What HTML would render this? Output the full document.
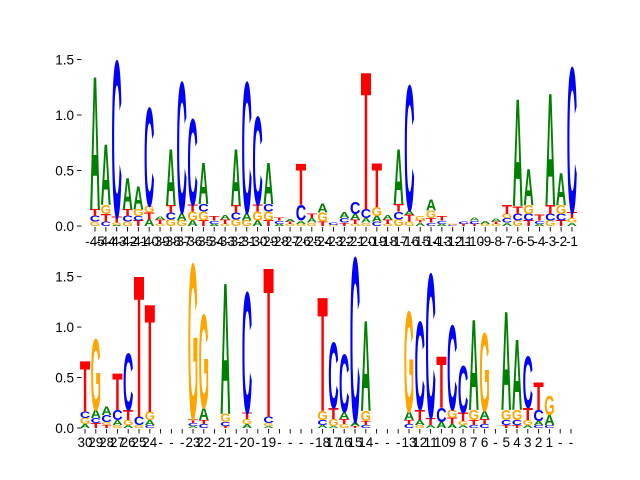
<!DOCTYPE html>
<html><head><meta charset="utf-8"><style>
html,body{margin:0;padding:0;background:#fff;}
svg{display:block;font-family:"Liberation Sans",sans-serif;}
</style></head><body>
<svg id="chart" width="640" height="480" viewBox="0 0 640 480" xmlns="http://www.w3.org/2000/svg"></svg>
<script>
const topLabels = [];
for (let k = 45; k >= 1; k--) topLabels.push('-' + k);
const topStacks = [
 [['G',.04],['C',.05],['T',.06],['A',1.19]],
 [['C',.04],['T',.07],['G',.08],['A',.54]],
 [['A',.01],['G',.02],['T',.05],['C',1.40]],
 [['G',.04],['C',.05],['T',.06],['A',.28]],
 [['T',.05],['C',.04],['G',.06],['A',.21]],
 [['A',.06],['T',.06],['G',.06],['C',.88]],
 [['G',.02],['T',.04],['A',.03]],
 [['G',.06],['C',.06],['T',.07],['A',.50]],
 [['G',.05],['A',.07],['C',1.17]],
 [['A',.05],['G',.08],['T',.06],['C',.77]],
 [['T',.05],['G',.08],['C',.07],['A',.37]],
 [['A',.02],['C',.03],['T',.04]],
 [['G',.02],['T',.04],['A',.04]],
 [['G',.06],['C',.06],['T',.07],['A',.50]],
 [['G',.05],['A',.07],['C',1.17]],
 [['A',.05],['G',.08],['T',.06],['C',.79]],
 [['T',.05],['G',.08],['C',.07],['A',.37]],
 [['A',.02],['C',.03],['T',.03]],
 [['G',.02],['T',.02],['A',.02]],
 [['G',.02],['A',.03],['C',.14],['T',.37]],
 [['G',.03],['A',.04],['T',.04]],
 [['T',.04],['G',.08],['A',.08]],
 [['G',.01],['C',.02]],
 [['T',.03],['C',.04],['A',.05]],
 [['G',.02],['T',.04],['A',.05],['C',.11]],
 [['G',.03],['A',.04],['C',.08],['T',1.23]],
 [['C',.04],['A',.05],['G',.08],['T',.39]],
 [['G',.02],['T',.04],['A',.04]],
 [['G',.06],['C',.07],['T',.07],['A',.49]],
 [['G',.04],['T',.06],['A',.04],['C',1.12]],
 [['A',.03],['T',.02],['G',.04]],
 [['C',.03],['T',.04],['G',.07],['A',.10]],
 [['A',.02],['C',.03],['T',.04]],
 [['C',.01],['G',.01]],
 [['T',.02],['C',.02]],
 [['T',.02],['C',.03],['A',.03]],
 [['G',.02],['A',.03]],
 [['G',.02],['T',.02],['A',.03]],
 [['A',.03],['C',.04],['G',.04],['T',.08]],
 [['G',.05],['C',.06],['T',.07],['A',.96]],
 [['T',.05],['C',.06],['G',.08],['A',.32]],
 [['A',.02],['C',.03],['T',.05]],
 [['G',.05],['C',.06],['T',.08],['A',1.00]],
 [['T',.05],['C',.06],['G',.08],['A',.29]],
 [['A',.03],['G',.04],['T',.05],['C',1.30]]
];
const bottomLabels = ['30','29','28','27','26','25','24','-','-','-','23','22','-','21','-','20','-','19','-','-','-','-','18','17','16','15','14','-','-','-','13','12','11','10','9','8','7','6','-','5','4','3','2','1','-','-'];
const bottomStacks = [
 [['A',.04],['G',.06],['C',.06],['T',.50]],
 [['T',.05],['C',.05],['A',.08],['G',.70]],
 [['T',.03],['G',.03],['C',.07],['A',.08]],
 [['G',.03],['A',.05],['C',.10],['T',.36]],
 [['A',.03],['G',.05],['T',.10],['C',.56]],
 [['G',.03],['C',.08],['T',1.39]],
 [['C',.03],['A',.05],['G',.08],['T',1.06]],
 [],[],[],
 [['A',.02],['C',.03],['T',.04],['G',1.53]],
 [['C',.04],['T',.04],['A',.12],['G',.92]],
 [],
 [['T',.02],['C',.04],['G',.08],['A',1.29]],
 [],
 [['A',.04],['G',.05],['T',.06],['C',1.19]],
 [],
 [['A',.02],['G',.03],['C',.06],['T',1.47]],
 [],[],[],[],
 [['A',.03],['C',.05],['G',.09],['T',1.12]],
 [['A',.02],['G',.07],['T',.11],['C',.65]],
 [['G',.04],['T',.05],['A',.07],['C',.57]],
 [['T',.02],['A',.04],['C',1.62]],
 [['C',.03],['T',.04],['G',.10],['A',.89]],
 [],[],[],
 [['C',.04],['T',.04],['A',.08],['G',.99]],
 [['G',.03],['A',.05],['T',.10],['C',.87]],
 [['A',.03],['T',.07],['C',1.42]],
 [['A',.06],['C',.14],['T',.51]],
 [['A',.04],['T',.06],['G',.08],['C',.83]],
 [['A',.03],['G',.04],['T',.08],['C',.46]],
 [['C',.03],['T',.05],['G',.10],['A',.89]],
 [['C',.04],['T',.05],['A',.08],['G',.77]],
 [],
 [['T',.03],['C',.05],['G',.10],['A',.97]],
 [['T',.03],['C',.05],['G',.10],['A',.69]],
 [['A',.03],['G',.05],['T',.12],['C',.51]],
 [['C',.03],['A',.04],['C',.11],['T',.27]],
 [['C',.03],['A',.10],['G',.19]],
 [],[]
];
const yTicks = [0, 0.5, 1.0, 1.5];
const colors = {A:'#008000', C:'#0000ff', G:'#ffa500', T:'#ff0000'};
const NS = 'http://www.w3.org/2000/svg';
const svg = document.getElementById('chart');

function mk(tag, attrs, parent) {
  const e = document.createElementNS(NS, tag);
  for (const k in attrs) e.setAttribute(k, attrs[k]);
  parent.appendChild(e);
  return e;
}

function drawPanel(name, labels, stacks, x0, step, y0, pxPerUnit, labelY) {
  const g = mk('g', {}, svg);
  
  
  const xS = i => x0 + step * i;
  const yS = v => y0 - v * pxPerUnit;
  yTicks.forEach(t => {
    const y = yS(t);
    const tk = mk('line', {x1: 77, x2: 81.5, y1: y, y2: y, stroke: '#000', 'stroke-width': 0.9}, g);
    
    
    const tl = mk('text', {x: 74, y: y + 4.8, 'font-size': 13.5, 'text-anchor': 'end', fill: '#000'}, g);
    tl.textContent = t.toFixed(1);
    
    
  });
  const cw = step * 0.96;
  labels.forEach((lab, i) => {
    const x = xS(i);
    const tk = mk('line', {x1: x, x2: x, y1: y0 + 1, y2: y0 + 5.5, stroke: '#000', 'stroke-width': 0.9}, g);
    
    
    const tl = mk('text', {x: x, y: labelY, 'font-size': 13.5, 'text-anchor': 'middle', fill: '#000'}, g);
    tl.textContent = lab;
    
    
    let cum = 0;
    (stacks[i] || []).forEach(([L, h]) => {
      const hp = h * pxPerUnit;
      if (hp < 0.3) { cum += h; return; }
      const yb = yS(cum);
      const t = mk('text', {
        x: 0, y: 0, 'font-size': 100, 'font-weight': 'bold', fill: colors[L],
        textLength: cw, lengthAdjust: 'spacingAndGlyphs',
        transform: `translate(${x - cw / 2},${yb}) scale(1,${hp / 69})`
      }, g);
      t.textContent = L;
      
      
      cum += h;
    });
  });
}

drawPanel('top-logo-panel', topLabels, topStacks, 95, 10.84, 226, 111, 246);
drawPanel('bottom-logo-panel', bottomLabels, bottomStacks, 85, 10.8, 428, 100.9, 447);
</script>
</body></html>
